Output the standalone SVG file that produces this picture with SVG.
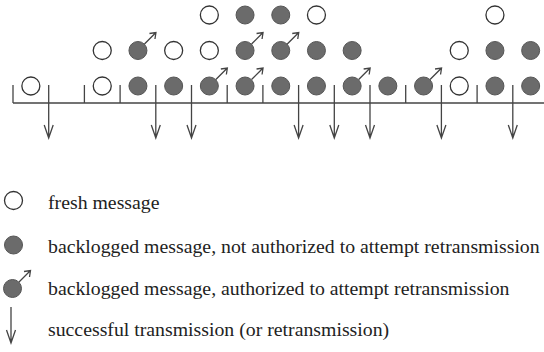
<svg xmlns="http://www.w3.org/2000/svg" width="544" height="352" viewBox="0 0 544 352">
<style>
.f{fill:#fff;stroke:#333;stroke-width:1.3}
.b{fill:#6b6b6b;stroke:#555;stroke-width:1}
.ln{fill:none;stroke:#444;stroke-width:1.3}
text{font-family:'Liberation Serif','Times New Roman','DejaVu Serif',serif;font-size:19.8px;fill:#222}
</style>
<defs>
<circle id="fr" r="9" class="f"/>
<circle id="bk" r="9" class="b"/>
<g id="au"><circle r="9" class="b"/><path class="ln" d="M6.5,-6.5 L18,-18 M11.5,-17 L18,-18 L17,-11.5"/></g>
<path id="dn" class="ln" d="M0,0 V53 M-4.5,40 L0,53 L4.5,40"/>
<path id="tk" class="ln" d="M0,0 V18"/>
</defs>
<g id="timeline">
<path class="ln" d="M13,103 H544"/>
<use href="#tk" x="13" y="85"/>
<use href="#tk" x="84.4" y="85"/>
<use href="#tk" x="120.1" y="85"/>
<use href="#tk" x="227.2" y="85"/>
<use href="#tk" x="262.9" y="85"/>
<use href="#tk" x="405.7" y="85"/>
<use href="#tk" x="477.1" y="85"/>
<use href="#dn" x="48.7" y="85"/>
<use href="#dn" x="155.8" y="85"/>
<use href="#dn" x="191.5" y="85"/>
<use href="#dn" x="298.6" y="85"/>
<use href="#dn" x="334.3" y="85"/>
<use href="#dn" x="370" y="85"/>
<use href="#dn" x="441.4" y="85"/>
<use href="#dn" x="512.8" y="85"/>
</g>
<g id="slot0"><use href="#fr" x="30.85" y="86"/></g>
<g id="slot2"><use href="#fr" x="102.25" y="86"/><use href="#fr" x="102.25" y="50.5"/></g>
<g id="slot3"><use href="#bk" x="137.95" y="86"/><use href="#au" x="137.95" y="50.5"/></g>
<g id="slot4"><use href="#bk" x="173.65" y="86"/><use href="#fr" x="173.65" y="50.5"/></g>
<g id="slot5"><use href="#au" x="209.35" y="86"/><use href="#fr" x="209.35" y="50.5"/><use href="#fr" x="209.35" y="15"/></g>
<g id="slot6"><use href="#au" x="245.05" y="86"/><use href="#au" x="245.05" y="50.5"/><use href="#bk" x="245.05" y="15"/></g>
<g id="slot7"><use href="#bk" x="280.75" y="86"/><use href="#au" x="280.75" y="50.5"/><use href="#bk" x="280.75" y="15"/></g>
<g id="slot8"><use href="#bk" x="316.45" y="86"/><use href="#bk" x="316.45" y="50.5"/><use href="#fr" x="316.45" y="15"/></g>
<g id="slot9"><use href="#au" x="352.15" y="86"/><use href="#bk" x="352.15" y="50.5"/></g>
<g id="slot10"><use href="#bk" x="387.85" y="86"/></g>
<g id="slot11"><use href="#au" x="423.55" y="86"/></g>
<g id="slot12"><use href="#fr" x="459.25" y="86"/><use href="#fr" x="459.25" y="50.5"/></g>
<g id="slot13"><use href="#bk" x="494.95" y="86"/><use href="#bk" x="494.95" y="50.5"/><use href="#fr" x="494.95" y="15"/></g>
<g id="slot14"><use href="#bk" x="530.65" y="86"/><use href="#bk" x="530.65" y="50.5"/></g>
<g id="legend">
<g id="leg-fresh"><use href="#fr" x="13.5" y="200.5"/><text x="48" y="209" font-family="Liberation Serif, serif">fresh message</text></g>
<g id="leg-back"><use href="#bk" x="13.5" y="245"/><text x="48" y="253" font-family="Liberation Serif, serif">backlogged message, not authorized to attempt retransmission</text></g>
<g id="leg-auth"><use href="#au" x="12.5" y="288.5"/><text x="48" y="295" font-family="Liberation Serif, serif">backlogged message, authorized to attempt retransmission</text></g>
<g id="leg-succ"><path class="ln" d="M11,307 V343 M6.5,330 L11,343 L15.5,330"/><text x="48" y="336" font-family="Liberation Serif, serif">successful transmission (or retransmission)</text></g>
</g>
</svg>
